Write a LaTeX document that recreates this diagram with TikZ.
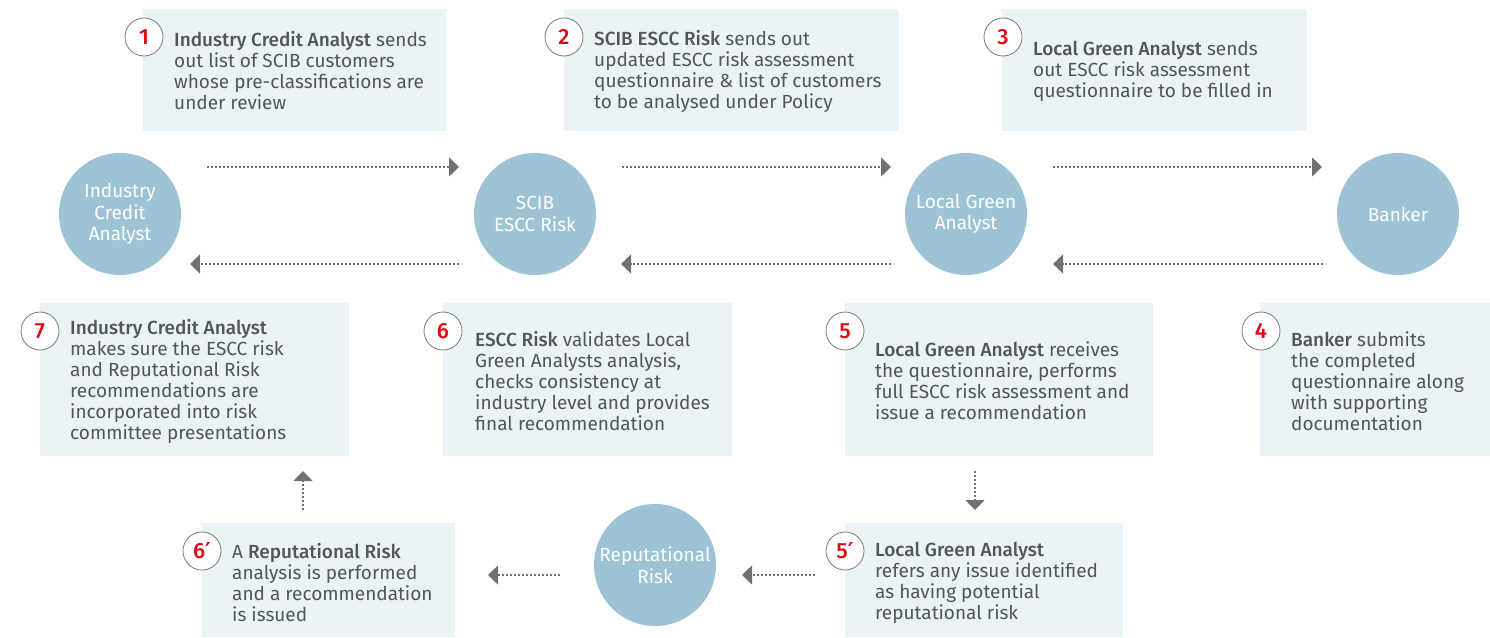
\documentclass[tikz,border=0pt]{standalone}
\usepackage{fontspec}
\setmainfont{Fira Sans}[BoldFont={Fira Sans Medium}]
\newfontfamily\primefont{DejaVu Sans}
\usetikzlibrary{arrows.meta}
\definecolor{boxfill}{HTML}{EAF3F6}
\definecolor{circfill}{HTML}{9DC3D4}
\definecolor{txt}{HTML}{545557}
\definecolor{arr}{HTML}{6B7375}
\definecolor{badgered}{HTML}{E30613}
\definecolor{badgeline}{HTML}{7A7A7A}
\tikzset{
  infobox/.style={fill=boxfill, draw=none},
  actor/.style={circle, fill=circfill, minimum size=122pt, inner sep=0pt, text=white, align=center, font=\fontsize{19}{21.5}\selectfont},
  badge/.style={circle, fill=white, draw=badgeline, line width=0.8pt, minimum size=38pt, inner sep=0pt, text=badgered, font=\fontsize{22}{24}\selectfont\bfseries},
  boxtext/.style={anchor=west, align=left, text=txt, inner sep=0pt, font=\fontsize{19}{21}\selectfont},
  flow/.style={draw=arr, line width=1.6pt, dash pattern=on 1.6pt off 2.4pt, -{Triangle[length=10pt,width=19pt]}},
}
\newcommand{\primemark}{{\primefont\bfseries ′}}
\begin{document}
\begin{tikzpicture}[x=1pt,y=-1pt]
\useasboundingbox (0,0) rectangle (1490,637);
% boxes
\path[infobox] (143,9) rectangle (446,131);
\path[infobox] (564,9) rectangle (899,131);
\path[infobox] (1002,9) rectangle (1307,131);
\path[infobox] (40,303) rectangle (349,456);
\path[infobox] (443,303) rectangle (732,456);
\path[infobox] (845,303) rectangle (1153,456);
\path[infobox] (1260,303) rectangle (1490,456);
\path[infobox] (202,523) rectangle (455,637);
\path[infobox] (845,523) rectangle (1123,637);
% box texts
\node[boxtext] (t1) at (174,71) {\textbf{Industry Credit Analyst} sends\\out list of SCIB customers\\whose pre-classifications are\\under review};
\node[boxtext] (t2) at (594,71) {\textbf{SCIB ESCC Risk} sends out\\updated ESCC risk assessment\\questionnaire \& list of customers\\to be analysed under Policy};
\node[boxtext] (t3) at (1033,71) {\textbf{Local Green Analyst} sends\\out ESCC risk assessment\\questionnaire to be filled in};
\node[boxtext] (t7) at (70,381) {\textbf{Industry Credit Analyst}\\makes sure the ESCC risk\\and Reputational Risk\\recommendations are\\incorporated into risk\\committee presentations};
\node[boxtext] (t6) at (475,381) {\textbf{ESCC Risk} validates Local\\Green Analysts analysis,\\checks consistency at\\industry level and provides\\final recommendation};
\node[boxtext] (t5) at (875,381) {\textbf{Local Green Analyst} receives\\the questionnaire, performs\\full ESCC risk assessment and\\issue a recommendation};
\node[boxtext] (t4) at (1291,381) {\textbf{Banker} submits\\the completed\\questionnaire along\\with supporting\\documentation};
\node[boxtext] (t6p) at (232,583) {A \textbf{Reputational Risk}\\analysis is performed\\and a recommendation\\is issued};
\node[boxtext] (t5p) at (875,583) {\textbf{Local Green Analyst}\\refers any issue identified\\as having potential\\reputational risk};
% badges
\node[badge] (b1) at (144,37) {1};
\node[badge] (b2) at (564,37) {2};
\node[badge] (b3) at (1003,37) {3};
\node[badge] (b7) at (40,331) {7};
\node[badge] (b6) at (443,331) {6};
\node[badge] (b5) at (845,331) {5};
\node[badge] (b4) at (1261,331) {4};
\node[badge] (b6p) at (202,551) {6\primemark};
\node[badge] (b5p) at (845,551) {5\primemark};
% actors
\node[actor] (ica) at (120,214) {Industry\\Credit\\Analyst};
\node[actor] (scib) at (535,214) {SCIB\\ESCC Risk};
\node[actor] (lga) at (966,214) {Local Green\\Analyst};
\node[actor] (bank) at (1398,214) {Banker};
\node[actor] (rep) at (655,565) {Reputational\\Risk};
% connector ends
\coordinate (a1s) at (207,167); \coordinate (a1e) at (459,167);
\coordinate (a2s) at (622,167); \coordinate (a2e) at (891,167);
\coordinate (a3s) at (1053,167); \coordinate (a3e) at (1322,167);
\coordinate (a4s) at (1323,264); \coordinate (a4e) at (1053,264);
\coordinate (a5s) at (891,264); \coordinate (a5e) at (621,264);
\coordinate (a6s) at (459,264); \coordinate (a6e) at (190,264);
\coordinate (v1s) at (975,471); \coordinate (v1e) at (975,510);
\coordinate (h1s) at (815,575); \coordinate (h1e) at (742,575);
\coordinate (h2s) at (560,575); \coordinate (h2e) at (488,575);
\coordinate (v2s) at (303,510); \coordinate (v2e) at (303,471);
\draw[flow] (a1s) -- (a1e);
\draw[flow] (a2s) -- (a2e);
\draw[flow] (a3s) -- (a3e);
\draw[flow] (a4s) -- (a4e);
\draw[flow] (a5s) -- (a5e);
\draw[flow] (a6s) -- (a6e);
\draw[flow] (v1s) -- (v1e);
\draw[flow] (h1s) -- (h1e);
\draw[flow] (h2s) -- (h2e);
\draw[flow] (v2s) -- (v2e);
\end{tikzpicture}
\end{document}
